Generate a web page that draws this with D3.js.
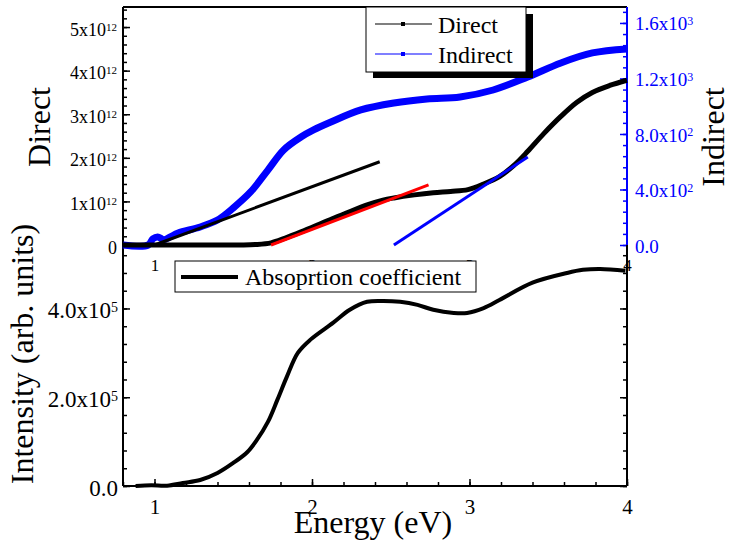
<!DOCTYPE html>
<html>
<head>
<meta charset="utf-8">
<script src="https://cdn.jsdelivr.net/npm/d3@7"></script>
<style>
    body { margin: 0; background: #fff; }
    svg { display: block; font-family: "Liberation Serif", "Times New Roman", serif; }
</style>
</head>
<body>
<div id="chart"></div>
<script>
// values
// top panel, Direct (left axis, units of 1e12)
const directEnergy = [0.8, 1.2, 1.55, 1.64, 1.74, 1.83, 1.93, 2.03, 2.14, 2.25, 2.35, 2.45, 2.52, 2.65, 2.77, 2.88, 2.99, 3.09, 3.19, 3.28, 3.37, 3.47, 3.58, 3.68, 3.78, 3.89, 4.0];
const directValues = [0, 0, 0, 0.01, 0.05, 0.16, 0.30, 0.45, 0.62, 0.78, 0.92, 1.03, 1.08, 1.15, 1.20, 1.23, 1.27, 1.40, 1.57, 1.82, 2.15, 2.55, 2.95, 3.27, 3.50, 3.66, 3.78];

// top panel, Indirect (right axis)
const indirectEnergy = [0.8, 0.96, 0.99, 1.02, 1.06, 1.10, 1.15, 1.29, 1.40, 1.50, 1.61, 1.72, 1.82, 1.93, 2.01, 2.12, 2.31, 2.52, 2.73, 2.94, 3.15, 3.37, 3.58, 3.78, 4.0];
const indirectValues = [0, 0, 45, 58, 38, 58, 86, 130, 180, 267, 382, 540, 685, 778, 829, 886, 973, 1023, 1052, 1067, 1117, 1211, 1312, 1384, 1413];

// linear fits drawn on the top panel
const directFitEnergy = [1.0, 2.43];
const directFitValues = [0, 1.91];
const redFitEnergy = [1.74, 2.74];
const redFitValues = [0, 1.38];
const indirectFitEnergy = [2.52, 3.37];
const indirectFitValues = [0, 634];

// bottom panel, absorption coefficient
const absEnergy = [0.88, 0.98, 1.08, 1.18, 1.29, 1.40, 1.50, 1.59, 1.65, 1.72, 1.78, 1.84, 1.91, 1.99, 2.135, 2.24, 2.35, 2.45, 2.56, 2.67, 2.77, 2.90, 2.985, 3.09, 3.19, 3.40, 3.62, 3.72, 3.83, 3.99];
const absValues = [0, 1500, 800, 6800, 13500, 29300, 51900, 76700, 103800, 144400, 194000, 245900, 300000, 329800, 368000, 397000, 415000, 417000, 415000, 408000, 397000, 390000, 390000, 401000, 419000, 458000, 480000, 487000, 489000, 485000];

// tick values and labels
const energyTicks = [1, 2, 3, 4];
const directTicks = [0, 1, 2, 3, 4, 5];
const directLabels = [["0"], ["1x10", "12"], ["2x10", "12"], ["3x10", "12"], ["4x10", "12"], ["5x10", "12"]];
const indirectTicks = [0, 400, 800, 1200, 1600];
const indirectLabels = [["0.0"], ["4.0x10", "2"], ["8.0x10", "2"], ["1.2x10", "3"], ["1.6x10", "3"]];
const absTicks = [0, 200000, 400000];
const absLabels = [["0.0"], ["2.0x10", "5"], ["4.0x10", "5"]];

const W = 730, H = 548;
const pLeft = 123, pRight = 627, pTop = 7, pMid = 245, pBottom = 486;
const blue = '#0000ff';

const svg = d3.select('#chart').append('svg')
    .attr('width', W)
    .attr('height', H);

const x = d3.scaleLinear().domain([0.8, 4]).range([pLeft, pRight]);
const yDirect = d3.scaleLinear().domain([0, 5.46]).range([pMid, pTop]);
const yIndirect = d3.scaleLinear().domain([0, 1715]).range([pMid, pTop]);
const yAbs = d3.scaleLinear().domain([0, 543000]).range([pBottom, pMid]);

// turn the axis text into "Nx10" + superscript
function supText(g, labels, ticks, size) {
    g.selectAll('.tick text').each(function(d) {
        const lab = labels[ticks.indexOf(d)];
        const t = d3.select(this).text(lab[0]);
        if (lab[1]) {
            t.append('tspan')
                .attr('dy', '-0.45em')
                .style('font-size', Math.round(size * 0.62) + 'px')
                .text(lab[1]);
        }
    });
}

function styleAxis(g, color, size) {
    g.select('.domain').remove();
    g.selectAll('.tick line').attr('stroke', color).attr('stroke-width', 1.5);
    g.selectAll('.tick text')
        .attr('fill', color)
        .style('font-size', size + 'px')
        .style('font-family', '"Liberation Serif", "Times New Roman", serif');
}

// ---- minor ticks
const minor = (g, axis) => { g.call(axis.tickFormat('')); g.select('.domain').remove(); };

svg.append('g').attr('transform', `translate(${pLeft},0)`)
    .call(g => minor(g, d3.axisLeft(yDirect).tickValues(d3.range(0, 5.45, 0.2)).tickSize(-4)))
    .selectAll('line').attr('stroke', '#000').attr('stroke-width', 1.5);
svg.append('g').attr('transform', `translate(${pRight},0)`)
    .call(g => minor(g, d3.axisRight(yIndirect).tickValues(d3.range(0, 1710, 80)).tickSize(-4)))
    .selectAll('line').attr('stroke', blue).attr('stroke-width', 1.5);
svg.append('g').attr('transform', `translate(${pLeft},0)`)
    .call(g => minor(g, d3.axisLeft(yAbs).tickValues(d3.range(0, 540000, 40000)).tickSize(-4)))
    .selectAll('line').attr('stroke', '#000').attr('stroke-width', 1.5);
svg.append('g').attr('transform', `translate(${pRight},0)`)
    .call(g => minor(g, d3.axisRight(yAbs).tickValues(d3.range(0, 540000, 40000)).tickSize(-4)))
    .selectAll('line').attr('stroke', '#000').attr('stroke-width', 1.5);
svg.append('g').attr('transform', `translate(0,${pBottom})`)
    .call(g => minor(g, d3.axisBottom(x).tickValues(d3.range(0.8, 4.01, 0.2)).tickSize(-4)))
    .selectAll('line').attr('stroke', '#000').attr('stroke-width', 1.5);

// ---- major axes
const axDirect = svg.append('g').attr('transform', `translate(${pLeft},0)`)
    .call(d3.axisLeft(yDirect).tickValues(directTicks).tickSize(-7).tickPadding(6));
styleAxis(axDirect, '#000', 18);
axDirect.selectAll('.tick text').attr('dy', '0.45em');
supText(axDirect, directLabels, directTicks, 18);

const axIndirect = svg.append('g').attr('transform', `translate(${pRight},0)`)
    .call(d3.axisRight(yIndirect).tickValues(indirectTicks).tickSize(-7).tickPadding(8));
styleAxis(axIndirect, blue, 19);
axIndirect.selectAll('.tick text').attr('dy', '0.37em');
supText(axIndirect, indirectLabels, indirectTicks, 19);

const axAbs = svg.append('g').attr('transform', `translate(${pLeft},0)`)
    .call(d3.axisLeft(yAbs).tickValues(absTicks).tickSize(-7).tickPadding(5));
styleAxis(axAbs, '#000', 23);
axAbs.selectAll('.tick text').attr('dy', '0.4em');
supText(axAbs, absLabels, absTicks, 23);

const axAbsR = svg.append('g').attr('transform', `translate(${pRight},0)`)
    .call(d3.axisRight(yAbs).tickValues(absTicks).tickSize(-7).tickFormat(''));
styleAxis(axAbsR, '#000', 23);

const axEnergy = svg.append('g').attr('transform', `translate(0,${pBottom})`)
    .call(d3.axisBottom(x).tickValues(energyTicks).tickSize(-7).tickPadding(13).tickFormat(d3.format('d')));
styleAxis(axEnergy, '#000', 21);

// top panel energy labels (no visible ticks)
const axEnergyTop = svg.append('g').attr('transform', `translate(0,${pMid})`)
    .call(d3.axisBottom(x).tickValues(energyTicks).tickSize(0).tickPadding(14).tickFormat(d3.format('d')));
styleAxis(axEnergyTop, '#000', 17);

// ---- frame
const frame = svg.append('g').attr('stroke-width', 2);
frame.append('line').attr('x1', pLeft).attr('x2', pRight).attr('y1', pTop).attr('y2', pTop).attr('stroke', '#000');
frame.append('line').attr('x1', pLeft).attr('x2', pLeft).attr('y1', pTop).attr('y2', pBottom).attr('stroke', '#000');
frame.append('line').attr('x1', pLeft).attr('x2', pRight).attr('y1', pBottom).attr('y2', pBottom).attr('stroke', '#000');
frame.append('line').attr('x1', pRight).attr('x2', pRight).attr('y1', pMid).attr('y2', pBottom).attr('stroke', '#000');
frame.append('line').attr('x1', pRight).attr('x2', pRight).attr('y1', pTop).attr('y2', pMid).attr('stroke', blue);

// ---- curves
const smooth = d3.curveCatmullRom.alpha(0.5);
const zipped = (xs, ys) => xs.map((e, i) => [e, ys[i]]);

const lineDirect = d3.line().x(d => x(d[0])).y(d => yDirect(d[1])).curve(smooth);
const lineIndirect = d3.line().x(d => x(d[0])).y(d => yIndirect(d[1])).curve(smooth);
const lineAbs = d3.line().x(d => x(d[0])).y(d => yAbs(d[1])).curve(smooth);

svg.append('path')
    .datum(zipped(indirectEnergy, indirectValues))
    .attr('d', lineIndirect)
    .attr('fill', 'none').attr('stroke', blue).attr('stroke-width', 7);

svg.append('path')
    .datum(zipped(directEnergy, directValues))
    .attr('d', lineDirect)
    .attr('fill', 'none').attr('stroke', '#000').attr('stroke-width', 5);

svg.append('path')
    .datum(zipped(directFitEnergy, directFitValues))
    .attr('d', d3.line().x(d => x(d[0])).y(d => yDirect(d[1])))
    .attr('fill', 'none').attr('stroke', '#000').attr('stroke-width', 3);

svg.append('path')
    .datum(zipped(redFitEnergy, redFitValues))
    .attr('d', d3.line().x(d => x(d[0])).y(d => yDirect(d[1])))
    .attr('fill', 'none').attr('stroke', '#ff0000').attr('stroke-width', 3);

svg.append('path')
    .datum(zipped(indirectFitEnergy, indirectFitValues))
    .attr('d', d3.line().x(d => x(d[0])).y(d => yIndirect(d[1])))
    .attr('fill', 'none').attr('stroke', blue).attr('stroke-width', 3);

svg.append('path')
    .datum(zipped(absEnergy, absValues))
    .attr('d', lineAbs)
    .attr('fill', 'none').attr('stroke', '#000').attr('stroke-width', 4);

// ---- legends
const leg1 = svg.append('g');
leg1.append('rect').attr('x', 373).attr('y', 14).attr('width', 160).attr('height', 64).attr('fill', '#000');
leg1.append('rect').attr('x', 366).attr('y', 7).attr('width', 160).attr('height', 65)
    .attr('fill', '#fff').attr('stroke', '#000').attr('stroke-width', 1);
[['Direct', '#000', 24], ['Indirect', blue, 54]].forEach(([name, c, yy]) => {
    leg1.append('line').attr('x1', 375).attr('x2', 432).attr('y1', yy).attr('y2', yy)
        .attr('stroke', c).attr('stroke-width', 1.2);
    leg1.append('rect').attr('x', 401).attr('y', yy - 2).attr('width', 4).attr('height', 4).attr('fill', c);
    leg1.append('text').attr('x', 438).attr('y', yy + 9)
        .style('font-size', '24px').attr('fill', '#000').text(name);
});

const leg2 = svg.append('g');
leg2.append('rect').attr('x', 175).attr('y', 261).attr('width', 301).attr('height', 31)
    .attr('fill', '#fff').attr('stroke', '#000').attr('stroke-width', 1);
leg2.append('line').attr('x1', 181).attr('x2', 238).attr('y1', 277).attr('y2', 277)
    .attr('stroke', '#000').attr('stroke-width', 4);
leg2.append('text').attr('x', 245).attr('y', 285)
    .style('font-size', '24px').attr('fill', '#000').text('Absoprtion coefficient');

// ---- axis titles
svg.append('text')
    .attr('transform', 'translate(50,127) rotate(-90)')
    .attr('text-anchor', 'middle')
    .style('font-size', '32px')
    .text('Direct');

svg.append('text')
    .attr('transform', 'translate(724,137) rotate(-90)')
    .attr('text-anchor', 'middle')
    .style('font-size', '32px')
    .text('Indirect');

svg.append('text')
    .attr('transform', 'translate(33,354) rotate(-90)')
    .attr('text-anchor', 'middle')
    .style('font-size', '32px')
    .text('Intensity (arb. units)');

svg.append('text')
    .attr('x', 373)
    .attr('y', 533)
    .attr('text-anchor', 'middle')
    .style('font-size', '32px')
    .text('Energy (eV)');
</script>
</body>
</html>
